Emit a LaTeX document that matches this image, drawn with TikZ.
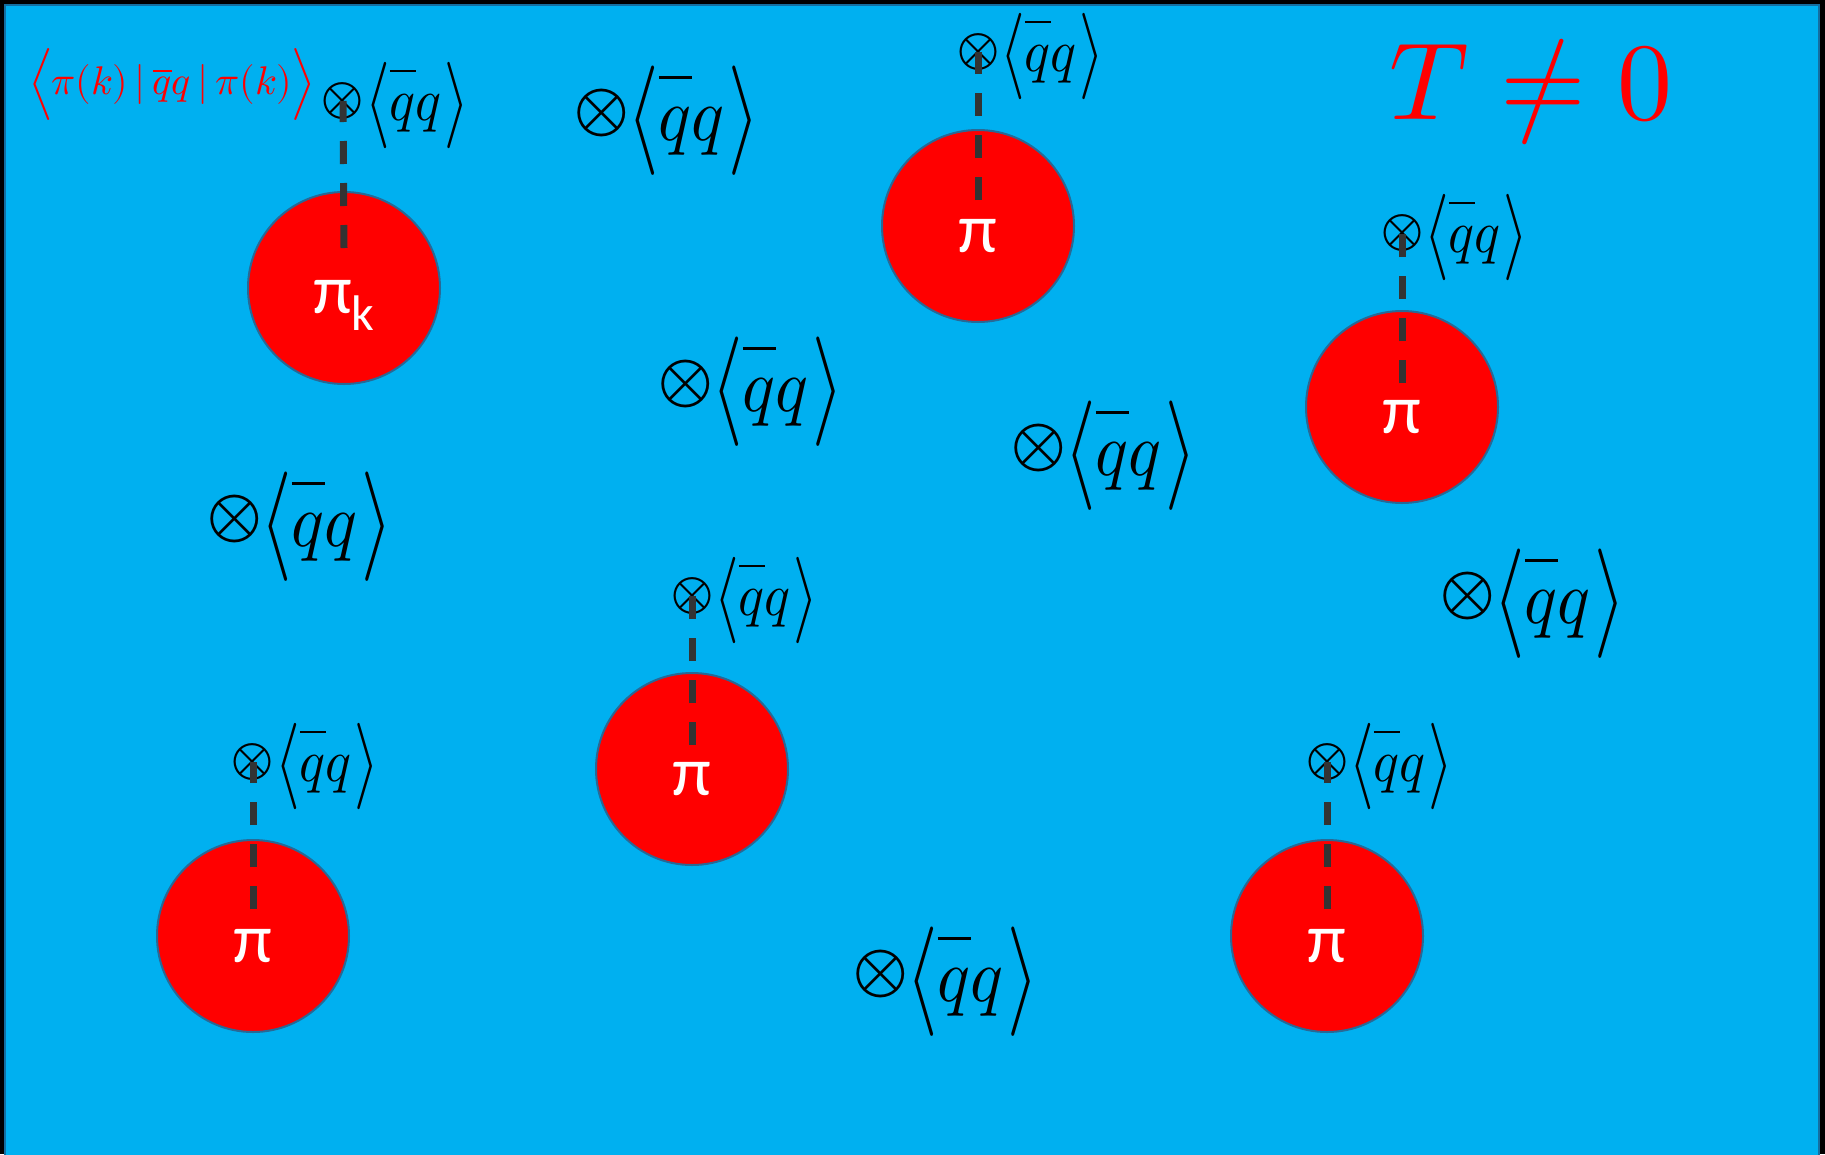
\documentclass[tikz,border=0pt]{standalone}
\usepackage{graphicx}
\usepackage{fontspec}
\usepackage{unicode-math}
\setmathfont{Latin Modern Math}
\newfontfamily\pifont{Carlito}
\definecolor{bgblue}{RGB}{0,176,240}
\definecolor{bgedge}{RGB}{20,110,160}
\definecolor{pired}{RGB}{255,0,0}
\definecolor{pionedge}{RGB}{40,105,150}
\definecolor{dashgray}{RGB}{51,51,51}
\tikzset{
  pion/.style={circle, fill=pired, draw=pionedge, line width=2pt, minimum size=192pt, inner sep=0pt},
  pilabel/.style={text=white, font=\pifont\fontsize{70}{70}\selectfont, inner sep=0pt, anchor=base},
  otS/.style={inner sep=0pt, font=\fontsize{54}{54}\selectfont},
  otL/.style={inner sep=0pt, font=\fontsize{70}{70}\selectfont},
  qqS/.style={inner sep=0pt, anchor=west, font=\fontsize{60}{60}\selectfont},
  qqL/.style={inner sep=0pt, anchor=west, font=\fontsize{76}{76}\selectfont},
  dashline/.style={draw=dashgray, line width=7pt, dash pattern=on 23pt off 19pt},
}
\newcommand{\mylang}{\mathopen{\vcenter{\hbox{\scalebox{1}[1.2]{$\bigl\langle$}}}}}
\newcommand{\myrang}{\mathclose{\vcenter{\hbox{\scalebox{1}[1.2]{$\bigr\rangle$}}}}}
\newcommand{\qqexpr}{\scalebox{0.9}[1]{$\mylang\overline{\vphantom{T}q}q\mkern1mu\myrang$}}
\begin{document}
\begin{tikzpicture}[x=1pt,y=-1pt]
\useasboundingbox (0,0) rectangle (1825,1154);
\fill[black] (0,0) rectangle (1825,1154);
\filldraw[fill=bgblue, draw=bgedge, line width=2pt] (5,5) rectangle (1819,1160);

% pions
\node[pion] (p1) at (344,288) {};
\node[pion] (p2) at (978,226) {};
\node[pion] (p3) at (1402,407) {};
\node[pion] (p4) at (692,769) {};
\node[pion] (p5) at (253,936) {};
\node[pion] (p6) at (1327,936) {};

\node[pilabel] (t1) at ([yshift=-25]p1.center) {π\raisebox{-17pt}{\fontsize{50}{50}\selectfont k}};
\node[pilabel] (t2) at ([yshift=-26]p2.center) {π};
\node[pilabel] (t3) at ([yshift=-26]p3.center) {π};
\node[pilabel] (t4) at ([yshift=-26]p4.center) {π};
\node[pilabel] (t5) at ([yshift=-26]p5.center) {π};
\node[pilabel] (t6) at ([yshift=-26]p6.center) {π};

% small condensate labels attached to pions
\node[otS] (x1) at (343,101) {$\otimes$};
\node[otS] (x2) at (978,52) {$\otimes$};
\node[otS] (x3) at (1402,233) {$\otimes$};
\node[otS] (x4) at (692,596) {$\otimes$};
\node[otS] (x5) at (253,762) {$\otimes$};
\node[otS] (x6) at (1327,762) {$\otimes$};
\foreach \i in {1,...,6}{
  \node[qqS] (b\i) at ([xshift=0,yshift=-4]x\i.east) {\qqexpr};
}

% free condensate labels
\node[otL] (y1) at (602,113) {$\otimes$};
\node[otL] (y2) at (686,384) {$\otimes$};
\node[otL] (y3) at (1039,448) {$\otimes$};
\node[otL] (y4) at (235,519) {$\otimes$};
\node[otL] (y5) at (1468,596) {$\otimes$};
\node[otL] (y6) at (881,974) {$\otimes$};
\foreach \i in {1,...,6}{
  \node[qqL] (c\i) at ([xshift=-3,yshift=-8]y\i.east) {\qqexpr};
}

% dashed connectors
\draw[dashline] ([yshift=40]p1.center) -- (x1.center);
\draw[dashline] ([yshift=26]p2.center) -- (x2.center);
\draw[dashline] ([yshift=24]p3.center) -- (x3.center);
\draw[dashline] ([yshift=24]p4.center) -- (x4.center);
\draw[dashline] ([yshift=27]p5.center) -- (x5.center);
\draw[dashline] ([yshift=27]p6.center) -- (x6.center);

% titles
\node[text=pired, inner sep=0pt, font=\fontsize{40}{40}\selectfont] (me) at (172,84)
  {$\Bigl\langle\pi(k)\,|\,\overline{q}q\,|\,\pi(k)\Bigr\rangle$};
\node[text=pired, inner sep=0pt, font=\fontsize{110}{110}\selectfont] (temp) at (1531,92) {$T\neq0$};
\end{tikzpicture}
\end{document}
